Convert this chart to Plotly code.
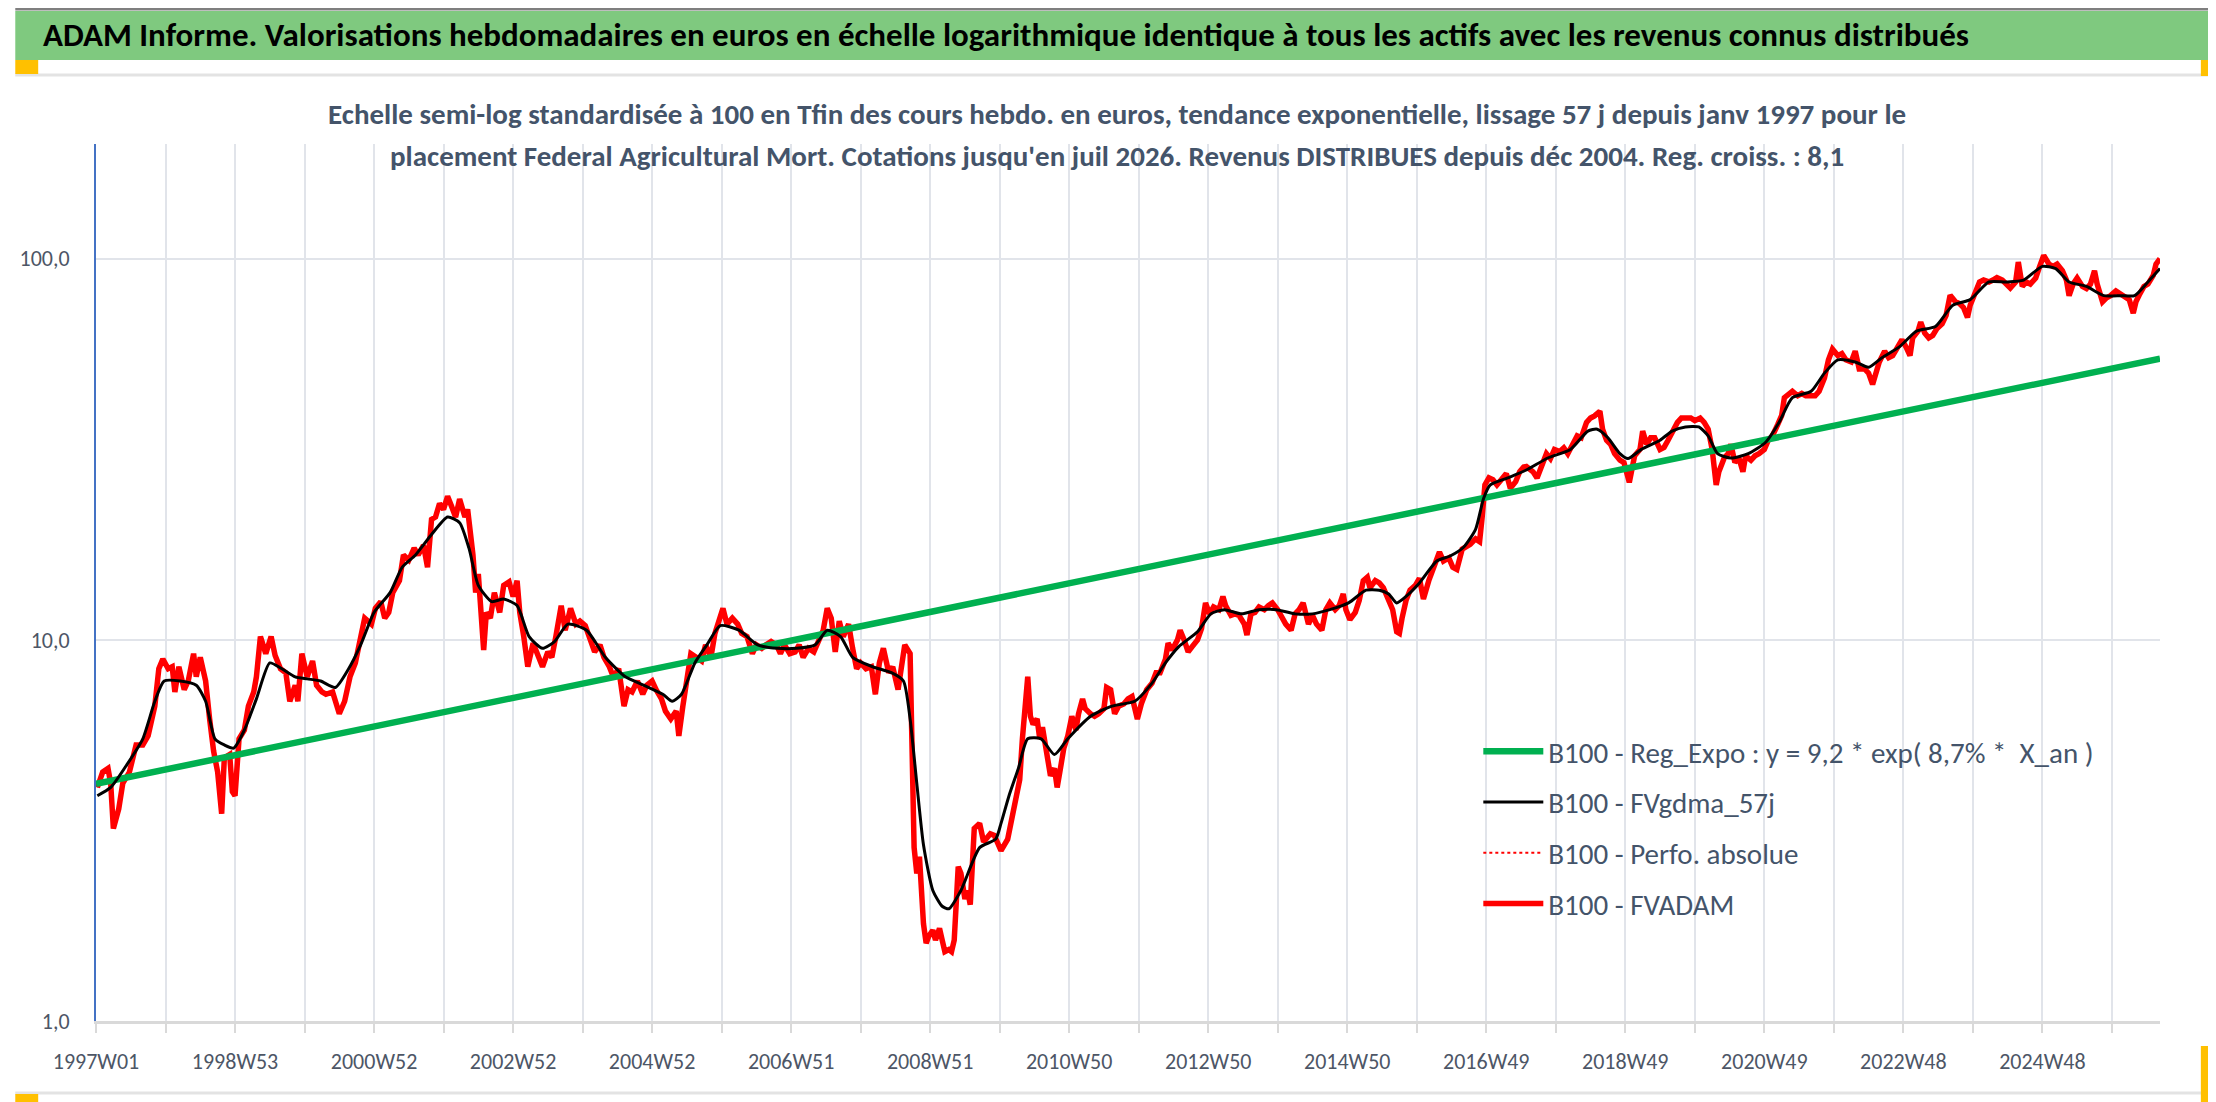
import plotly.graph_objs as go

# weekly index: week 0 = 1997W01, one point every few weeks
fvadam_weeks = [
    1, 5, 9, 11, 13, 17, 20, 25, 30, 35,
    39, 44, 47, 50, 54, 57, 59, 62, 66, 69,
    73, 75, 78, 82, 85, 88, 91, 94, 96, 100,
    102, 104, 107, 111, 114, 118, 120, 123, 127, 131,
    134, 138, 142, 145, 149, 151, 154, 158, 162, 165,
    169, 172, 177, 182, 186, 190, 194, 198, 201, 206,
    209, 213, 216, 219, 222, 227, 230, 234, 238, 241,
    245, 248, 251, 254, 257, 260, 263, 266, 269, 272,
    276, 278, 282, 284, 286, 290, 292, 295, 298, 302,
    305, 309, 312, 315, 317, 320, 323, 327, 330, 334,
    338, 341, 344, 348, 351, 355, 359, 362, 366, 369,
    373, 377, 380, 384, 387, 391, 395, 398, 401, 405,
    409, 412, 416, 419, 423, 426, 430, 434, 436, 439,
    442, 445, 449, 453, 456, 460, 463, 467, 469, 472,
    476, 480, 483, 487, 491, 494, 498, 501, 505, 509,
    512, 515, 519, 523, 526, 529, 533, 537, 540, 544,
    547, 550, 553, 556, 559, 563, 566, 569, 572, 576,
    580, 583, 586, 589, 593, 596, 600, 603, 605, 609,
    612, 614, 616, 619, 621, 623, 626, 628, 631, 633,
    635, 638, 640, 642, 645, 647, 650, 652, 654,
    657, 661, 664, 669, 672, 677, 682, 687, 691, 693,
    697, 699, 701, 704, 706, 708, 711, 714, 717, 719,
    721, 724, 727, 730, 733, 735, 738, 740, 744, 747,
    750, 754, 756, 759, 762, 765, 769, 772, 775, 779,
    782, 786, 790, 793, 796, 800, 802, 805, 809, 811,
    814, 817, 820, 824, 827, 830, 833, 836, 840, 843,
    845, 849, 852, 855, 859, 861, 864, 867, 870, 874,
    877, 880, 884, 887, 890, 894, 897, 900, 903, 907,
    910, 913, 917, 920, 923, 927, 930, 933, 935, 938,
    942, 945, 948, 951, 953, 957, 960, 963, 967, 970,
    973, 975, 977, 980, 983, 987, 990, 993, 997, 1000,
    1003, 1005, 1008, 1012, 1015, 1018, 1022, 1025, 1028, 1032,
    1035, 1037, 1039, 1042, 1045, 1048, 1052, 1055, 1058, 1062,
    1065, 1068,
    1070, 1075, 1078, 1081, 1085, 1088, 1091, 1095, 1098, 1101,
    1105, 1108, 1111, 1115, 1118, 1121, 1125, 1127, 1130, 1133,
    1136, 1140, 1143, 1146, 1147, 1151, 1155, 1157, 1160, 1163,
    1166, 1170, 1173, 1176, 1180, 1183, 1186, 1190, 1193, 1196,
    1200, 1203, 1206, 1209, 1212, 1214, 1218, 1221, 1223, 1226,
    1229, 1232, 1234, 1238, 1241, 1244, 1248, 1251, 1254, 1258,
    1261, 1263, 1266, 1269, 1273, 1276, 1279, 1283, 1286, 1289,
    1293, 1296, 1299, 1303, 1306, 1309, 1313, 1316, 1319, 1323,
    1326, 1329, 1331, 1334, 1338, 1341, 1344, 1348, 1351, 1354,
    1357, 1359, 1363, 1365, 1368, 1371, 1374, 1377, 1381, 1384,
    1387, 1391, 1394, 1397, 1400, 1402, 1406, 1409, 1412, 1416,
    1419, 1422, 1426, 1429, 1432, 1436, 1438, 1441, 1444, 1447,
    1451, 1454, 1457, 1461, 1464, 1467, 1471, 1474, 1476, 1479,
    1482, 1486, 1489, 1492, 1495, 1497, 1501, 1504, 1507, 1511,
    1514, 1517, 1521, 1524, 1526, 1529, 1532, 1535, 1539, 1541,
    1544,
]
fvadam_vals = [
    4.1, 4.5, 4.6, 4.2, 3.2, 3.6, 4.2, 4.5, 5.3, 5.3,
    5.6, 6.7, 8.4, 8.9, 8.4, 8.5, 7.3, 8.5, 7.4, 7.8,
    9.2, 8.0, 9.0, 7.8, 6.2, 5.1, 4.5, 3.5, 4.9, 5.0,
    4.0, 3.9, 5.5, 5.8, 6.7, 7.3, 8.0, 10.2, 9.2, 10.2,
    9.1, 8.4, 8.2, 6.9, 7.6, 6.9, 9.2, 8.0, 8.8, 7.6,
    7.3, 7.2, 7.3, 6.4, 6.9, 8.0, 8.7, 10.0, 11.4, 11.0,
    12.1, 12.6, 11.4, 11.8, 13.3, 14.3, 16.7, 16.2, 17.4, 16.7,
    17.7, 15.5, 20.7, 21.0, 22.8, 22.0, 23.8, 22.4, 21.0, 23.4,
    21.0, 22.0, 16.7, 13.3, 14.9, 9.4, 11.8, 11.4, 13.3, 11.8,
    13.9, 14.2, 13.0, 14.3, 11.8, 10.2, 8.5, 9.8, 9.2, 8.5,
    9.3, 9.0, 10.2, 12.3, 10.6, 12.1, 11.0, 11.2, 10.9, 10.2,
    9.3, 9.7, 9.0, 8.5, 8.0, 8.4, 6.7, 7.4, 7.3, 7.8,
    7.2, 7.6, 7.8, 7.4, 7.0, 6.5, 6.2, 6.5, 5.6, 6.7,
    7.7, 9.2, 9.0, 8.8, 9.7, 9.0, 10.4, 11.4, 12.1, 11.0,
    11.4, 11.0, 10.4, 10.2, 9.2, 9.7, 9.5, 9.7, 9.9, 9.7,
    9.2, 9.7, 9.2, 9.3, 9.7, 9.0, 9.5, 9.3, 9.9, 10.6,
    12.1, 11.4, 9.3, 11.2, 10.2, 11.0, 9.5, 8.4, 8.7, 8.4,
    8.5, 7.2, 8.7, 9.5, 8.2, 8.5, 7.4, 9.0, 9.7, 9.2,
    2.85, 2.44, 2.7, 1.8, 1.6, 1.67, 1.73, 1.63, 1.75, 1.63,
    1.52, 1.54, 1.52, 1.63, 2.54, 2.44, 2.09, 2.2, 2.02,
    3.2, 3.3, 2.95, 3.1, 3.07, 2.8, 3.0, 3.67, 4.3, 5.5,
    8.0, 6.3, 6.0, 6.2, 5.5, 5.9, 5.2, 4.4, 4.6, 4.1,
    4.5, 5.2, 5.6, 6.3, 5.8, 6.4, 7.0, 6.6, 6.4, 6.3,
    6.4, 6.6, 7.5, 7.4, 6.4, 6.7, 6.8, 7.0, 7.1, 6.2,
    6.8, 7.4, 7.7, 8.2, 8.2, 8.9, 9.8, 9.4, 10.0, 10.6,
    10.0, 9.3, 9.6, 10.0, 10.7, 12.5, 11.7, 12.2, 12.0, 13.0,
    12.3, 11.6, 11.7, 11.6, 11.0, 10.3, 11.7, 11.8, 12.2, 12.0,
    12.3, 12.5, 12.0, 11.4, 11.0, 10.6, 11.7, 12.0, 12.5, 11.0,
    11.6, 11.0, 10.6, 12.0, 12.5, 12.0, 12.3, 13.2, 12.0, 11.3,
    11.8, 12.7, 14.3, 14.6, 13.7, 14.3, 14.1, 13.7, 12.8, 12.0,
    10.5, 10.4, 11.4, 12.7, 13.5, 13.9, 14.5, 12.8, 14.3, 15.3,
    16.4, 17.0, 16.1, 16.4, 15.5, 15.3, 17.3, 17.5, 17.8, 18.4,
    18.1, 21.1, 25.5, 26.6, 26.3, 25.5, 26.6, 27.3, 25.0, 26.0,
    27.6, 28.4,
    28.5, 27.6, 26.6, 28.5, 30.8, 29.9, 31.6, 31.2, 31.9, 30.8,
    32.6, 34.3, 33.9, 37.2, 38.2, 38.7, 39.8, 35.7, 33.4, 32.6,
    30.8, 29.6, 29.2, 26.2, 25.9, 30.4, 31.6, 35.3, 32.6, 33.9,
    33.9, 31.6, 32.0, 33.4, 35.7, 37.2, 38.2, 38.2, 38.2, 37.6,
    38.2, 37.2, 35.7, 31.6, 25.5, 27.6, 30.0, 30.8, 32.6, 29.2,
    30.0, 27.6, 30.4, 29.6, 30.4, 30.8, 31.6, 33.4, 34.3, 36.7,
    38.8, 43.2, 44.3, 44.9, 43.7, 44.3, 43.7, 43.7, 43.7, 44.9,
    48.7, 54.3, 57.9, 55.7, 56.4, 54.3, 53.6, 57.2, 51.4, 51.4,
    50.1, 46.8, 50.1, 53.6, 57.2, 55.0, 55.7, 58.7, 61.3, 58.7,
    55.7, 62.0, 64.6, 68.2, 63.8, 62.0, 62.9, 65.5, 67.5, 71.0,
    80.2, 77.1, 76.3, 74.5, 70.1, 75.5, 81.0, 86.9, 87.9, 86.9,
    87.9, 89.2, 87.9, 85.8, 83.8, 86.9, 98.0, 84.6, 86.9, 85.8,
    89.0, 95.5, 102.0, 96.8, 95.5, 96.8, 93.0, 87.9, 80.0, 85.8,
    89.0, 84.6, 83.5, 85.8, 93.0, 85.8, 77.1, 79.0, 80.0, 82.3,
    81.0, 79.0, 78.1, 72.0, 77.1, 81.0, 84.6, 85.8, 90.5, 96.8,
    100.0,
]

# 57-day smoothed curve
gdma_weeks = [
    1, 11, 23, 35, 44, 51, 63, 75, 82, 89,
    96, 103, 111, 120, 130, 139, 149, 158, 168, 179,
    189, 198, 208, 220, 229, 239, 251, 263, 272, 279,
    286, 296, 305, 315, 324, 334, 343, 353, 367, 381,
    396, 410, 424, 431, 438, 448, 457, 467, 481, 495,
    510, 524, 538, 547, 557, 566, 581, 595, 604, 609,
    614, 619, 626, 633, 638, 647, 661, 673, 677, 683,
    690, 697, 707, 717, 727, 744, 760, 777, 790, 800,
    810, 824, 834, 844, 857, 870, 883, 897, 910, 923,
    937, 950, 960, 967, 973, 980, 990, 1003, 1013, 1023,
    1032, 1038, 1043, 1056, 1070, 1086, 1103, 1116, 1123, 1131,
    1140, 1146, 1156, 1170, 1179, 1189, 1199, 1206, 1213, 1223,
    1236, 1249, 1259, 1269, 1283, 1293, 1303, 1316, 1326, 1336,
    1349, 1362, 1376, 1389, 1402, 1416, 1429, 1442, 1456, 1466,
    1476, 1489, 1502, 1515, 1525, 1535, 1544,
]
gdma_vals = [
    3.9, 4.1, 4.7, 5.5, 6.9, 7.8, 7.8, 7.6, 6.9, 5.5,
    5.3, 5.2, 5.8, 7.0, 8.7, 8.4, 8.0, 7.9, 7.8, 7.5,
    8.4, 9.7, 11.8, 13.3, 15.5, 16.7, 18.9, 21.0, 20.3, 17.4,
    13.9, 12.6, 12.8, 12.3, 10.2, 9.5, 9.9, 11.0, 10.6, 9.0,
    8.0, 7.6, 7.2, 6.9, 7.2, 8.7, 9.7, 10.9, 10.6, 9.7,
    9.5, 9.5, 9.7, 10.6, 10.2, 9.0, 8.5, 8.2, 7.8, 6.2,
    4.2, 2.9, 2.2, 2.0, 1.97, 2.2, 2.85, 3.0, 3.3, 3.9,
    4.6, 5.5, 5.5, 5.0, 5.5, 6.3, 6.7, 6.9, 7.7, 8.7,
    9.6, 10.5, 11.7, 12.0, 11.7, 12.0, 12.0, 11.7, 11.7, 12.0,
    12.5, 13.5, 13.5, 13.2, 12.5, 13.0, 14.1, 16.1, 16.6, 17.5,
    19.5, 23.5, 25.5, 26.6, 27.9, 30.0, 31.6, 35.3, 35.7, 33.9,
    30.8, 29.9, 31.6, 33.4, 35.3, 36.2, 36.2, 34.3, 30.8, 30.0,
    30.8, 33.0, 37.2, 43.2, 44.9, 50.1, 54.3, 53.6, 51.9, 55.0,
    58.7, 64.6, 66.4, 75.5, 78.1, 86.9, 86.9, 87.9, 95.5, 94.2,
    86.9, 84.6, 80.0, 80.0, 80.0, 86.9, 94.2,
]

# exponential trend: straight on the log axis, so its two ends are enough
reg_weeks = [0, 1544]
reg_vals = [4.19, 54.7]

tick_weeks = [0, 104, 208, 312, 416, 520, 624, 728, 832, 936, 1040, 1144, 1248, 1352, 1456]
tick_labels = ["1997W01", "1998W53", "2000W52", "2002W52", "2004W52", "2006W51", "2008W51",
               "2010W50", "2012W50", "2014W50", "2016W49", "2018W49", "2020W49", "2022W48", "2024W48"]
ytick_vals = [1, 10, 100]
ytick_labels = ["1,0", "10,0", "100,0"]

FONT = "Carlito, Liberation Sans Narrow, DejaVu Sans Condensed, sans-serif"
W, H = 2216, 1102
L, R, T, B = 81, 64, 136, 89
PW, PH = W - L - R, H - T - B


def px(x):
    return (x - L) / PW


def py(y):
    return (H - B - y) / PH


fig = go.Figure()
fig.add_trace(go.Scatter(x=fvadam_weeks, y=fvadam_vals, mode="lines", name="B100 - Perfo. absolue",
                         line=dict(color="#ff0000", width=2, dash="dot"), legendrank=3, legendgroup="c"))
fig.add_trace(go.Scatter(x=fvadam_weeks, y=fvadam_vals, mode="lines", name="B100 - FVADAM",
                         line=dict(color="#ff0000", width=5.5), legendrank=4, legendgroup="d"))
fig.add_trace(go.Scatter(x=reg_weeks, y=reg_vals, mode="lines",
                         name="B100 - Reg_Expo : y = 9,2 * exp( 8,7% *  X_an )",
                         line=dict(color="#00b050", width=6.5), legendrank=1, legendgroup="a"))
fig.add_trace(go.Scatter(x=gdma_weeks, y=gdma_vals, mode="lines", name="B100 - FVgdma_57j",
                         line=dict(color="#000000", width=3, shape="spline", smoothing=0.6),
                         legendrank=2, legendgroup="b"))

shapes = [
    # green title band and window decorations
    dict(type="rect", xref="paper", yref="paper", x0=px(0), x1=px(2210), y0=py(52), y1=py(3),
         fillcolor="#7fc97f", line=dict(width=0), layer="below"),
    dict(type="line", xref="paper", yref="paper", x0=px(0), x1=px(W), y0=py(1), y1=py(1),
         line=dict(color="#7f7f7f", width=3)),
    dict(type="line", xref="paper", yref="paper", x0=px(0), x1=px(W), y0=py(1101), y1=py(1101),
         line=dict(color="#7f7f7f", width=3)),
    dict(type="line", xref="paper", yref="paper", x0=px(0), x1=px(2206), y0=py(67), y1=py(67),
         line=dict(color="#e3e3e3", width=3)),
    dict(type="line", xref="paper", yref="paper", x0=px(0), x1=px(2206), y0=py(1085), y1=py(1085),
         line=dict(color="#e3e3e3", width=3)),
    dict(type="line", xref="paper", yref="paper", x0=px(2207), x1=px(2207), y0=py(67), y1=py(1085),
         line=dict(color="#e3e3e3", width=2)),
    dict(type="rect", xref="paper", yref="paper", x0=px(0), x1=px(23), y0=py(66), y1=py(52),
         fillcolor="#ffc000", line=dict(width=0)),
    dict(type="rect", xref="paper", yref="paper", x0=px(2193), x1=px(2216), y0=py(68), y1=py(52),
         fillcolor="#ffc000", line=dict(width=0)),
    dict(type="rect", xref="paper", yref="paper", x0=px(0), x1=px(23), y0=py(1100), y1=py(1086),
         fillcolor="#ffc000", line=dict(width=0)),
    dict(type="rect", xref="paper", yref="paper", x0=px(2193), x1=px(2210), y0=py(1100), y1=py(1038),
         fillcolor="#ffc000", line=dict(width=0)),
]

annotations = [
    dict(text="Echelle semi-log standardisée à 100 en Tfin des cours hebdo. en euros, tendance exponentielle, "
              "lissage 57 j depuis janv 1997 pour le",
         xref="paper", yref="paper", x=px(1105), y=py(106), showarrow=False,
         font=dict(family=FONT, size=29, color="#44546a", weight="bold"), xanchor="center", yanchor="middle"),
    dict(text="placement Federal Agricultural Mort. Cotations jusqu'en juil 2026. Revenus DISTRIBUES depuis "
              "déc 2004. Reg. croiss. : 8,1",
         xref="paper", yref="paper", x=px(1105), y=py(148), showarrow=False,
         font=dict(family=FONT, size=29, color="#44546a", weight="bold"), xanchor="center", yanchor="middle"),
]

basic_layout = go.Layout(
    width=W, height=H,
    margin=dict(l=L, r=R, t=T, b=B),
    paper_bgcolor="white", plot_bgcolor="white",
    title=dict(text="<b>ADAM Informe. Valorisations hebdomadaires en euros en échelle logarithmique identique "
                    "à tous les actifs avec les revenus connus distribués</b>",
               xref="container", yref="container", x=35 / W, xanchor="left", y=1 - 26 / H, yanchor="middle",
               font=dict(family=FONT, size=33, color="#000000")),
    xaxis=dict(range=[0, 1544], tickmode="array", tickvals=tick_weeks, ticktext=tick_labels,
               showgrid=True, gridcolor="#e1e4ea", gridwidth=1.5, zeroline=False,
               showline=True, linecolor="#d9d9d9", linewidth=3,
               ticks="outside", ticklen=9, tickcolor="#d9d9d9", tickwidth=1.5, ticklabelstandoff=10,
               minor=dict(tick0=0, dtick=52, showgrid=True, gridcolor="#e1e4ea", gridwidth=1.5,
                          ticks="outside", ticklen=9, tickcolor="#d9d9d9"),
               tickfont=dict(family=FONT, size=22, color="#4d5666")),
    yaxis=dict(type="log", range=[0, 2.301], tickmode="array", tickvals=ytick_vals, ticktext=ytick_labels,
               showgrid=True, gridcolor="#e1e4ea", gridwidth=1.5, zeroline=False,
               showline=True, linecolor="#4472c4", linewidth=2, ticks="", ticklabelstandoff=20,
               tickfont=dict(family=FONT, size=22, color="#4d5666")),
    legend=dict(x=px(1468), y=py(718), xanchor="left", yanchor="top", bgcolor="rgba(0,0,0,0)",
                traceorder="grouped", tracegroupgap=10, itemwidth=60,
                font=dict(family=FONT, size=29, color="#44546a")),
    shapes=shapes,
    annotations=annotations,
)

fig = go.Figure(data=fig.data, layout=basic_layout)
fig.write_html("out.html")
